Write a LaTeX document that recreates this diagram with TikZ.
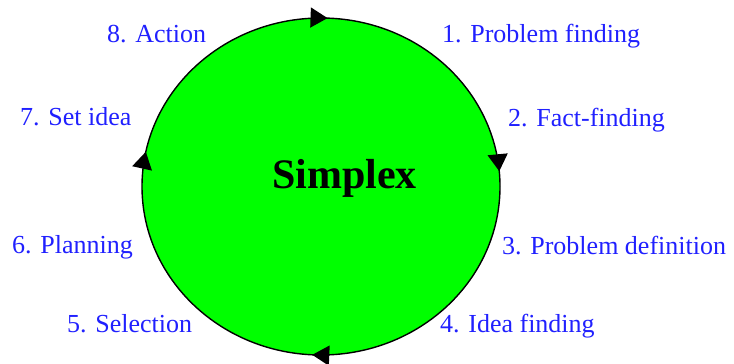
\documentclass[tikz,border=0pt]{standalone}
\usepackage{fontspec}
\setmainfont{Liberation Serif}
\usepackage{tikz}
\usetikzlibrary{arrows.meta,decorations.markings}
\definecolor{simplexgreen}{HTML}{00FF00}
\definecolor{stageblue}{HTML}{2020FF}
\tikzset{
  stage/.style={anchor=base west, inner sep=0pt, text=stageblue, font=\fontsize{26bp}{30bp}\selectfont},
  hub/.style={anchor=base west, inner sep=0pt, font=\fontsize{42bp}{48bp}\selectfont\bfseries},
  cycleline/.style={draw=black, line width=1.4bp, fill=simplexgreen, postaction={decorate},
    decoration={markings,
      mark=at position 0.014 with {\arrowreversed{>}},
      mark=at position 0.244 with {\arrowreversed{>}},
      mark=at position 0.468 with {\arrowreversed{>}},
      mark=at position 0.742 with {\arrowreversed{>}}}},
}

\begin{document}
\begin{tikzpicture}[x=1bp,y=1bp,>={Triangle[length=17bp,width=20bp]}]
  \useasboundingbox (0,0) rectangle (734,363);
  \draw[cycleline] (321,176.5) coordinate (mid) ellipse [x radius=179, y radius=168.5];
  \node[hub] (simplex) at (272,175) {Simplex};
  \foreach \x/\y/\name/\txt in {442/321/probfind/1. Problem finding, 508/237/factfind/2. Fact-finding,
      502/109/probdef/3. Problem definition, 440/31/ideafind/4. Idea finding,
      67/31/select/5. Selection, 12/110/plan/6. Planning,
      20/238/setidea/7. Set idea, 107/321/action/8. Action}
    \node[stage] (\name) at (\x,\y) {\txt};
\end{tikzpicture}
\end{document}
